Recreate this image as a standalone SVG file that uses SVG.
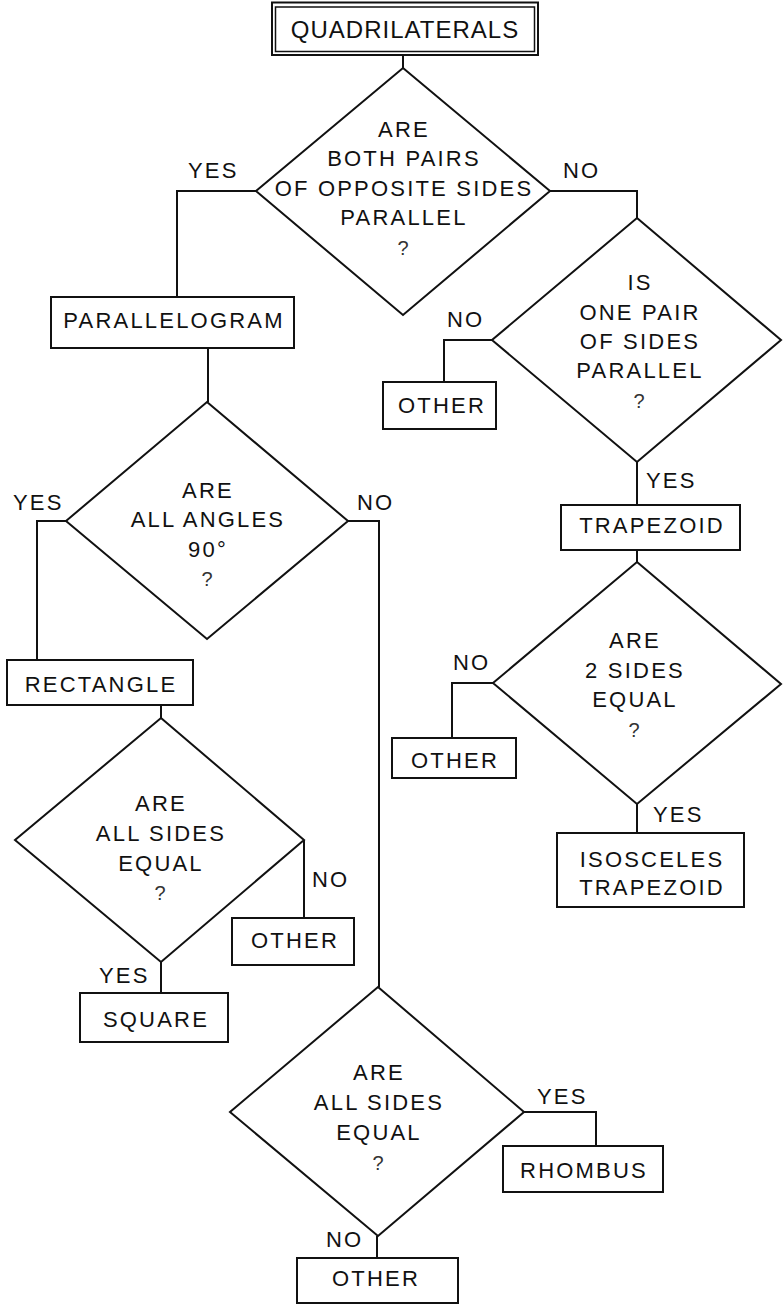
<svg xmlns="http://www.w3.org/2000/svg" width="783" height="1305" viewBox="0 0 783 1305">
<style>
  .bg { fill: #ffffff; }
  .shape { fill: #ffffff; stroke: #111111; stroke-width: 2; }
  .conn { fill: none; stroke: #111111; stroke-width: 2; }
  text { font-family: "Liberation Sans", Arial, sans-serif; font-size: 22px; fill: #111111; letter-spacing: 2.2px; }
  .c { text-anchor: middle; }
  .q { font-size: 20px; letter-spacing: 0; fill: #333333; }
  .title { font-size: 24px; letter-spacing: 1px; }
</style>
<rect class="bg" x="0" y="0" width="783" height="1305"/>

<g id="connectors">
  <path class="conn" d="M403 55 V68"/>
  <path class="conn" d="M256 191 H177 V297"/>
  <path class="conn" d="M550 191 H637 V218"/>
  <path class="conn" d="M208 348 V402"/>
  <path class="conn" d="M492 340 H444 V382"/>
  <path class="conn" d="M637 462 V505"/>
  <path class="conn" d="M637 550 V562"/>
  <path class="conn" d="M66 521 H37 V660"/>
  <path class="conn" d="M348 521 H379 V987"/>
  <path class="conn" d="M161 705 V718"/>
  <path class="conn" d="M304 840 V918"/>
  <path class="conn" d="M161 962 V993"/>
  <path class="conn" d="M493 683 H452 V738"/>
  <path class="conn" d="M637 804 V833"/>
  <path class="conn" d="M524 1112 H596 V1146"/>
  <path class="conn" d="M377 1236 V1258"/>
</g>

<g id="labels">
  <text x="188" y="178">YES</text>
  <text x="563" y="178">NO</text>
  <text x="447" y="327">NO</text>
  <text x="646" y="488">YES</text>
  <text x="13" y="510">YES</text>
  <text x="357" y="510">NO</text>
  <text x="312" y="887">NO</text>
  <text x="99" y="983">YES</text>
  <text x="453" y="670">NO</text>
  <text x="653" y="822">YES</text>
  <text x="537" y="1104">YES</text>
  <text x="326" y="1247">NO</text>
</g>

<g id="n-quadrilaterals">
  <rect class="shape" x="272" y="2.5" width="266" height="52.5" stroke-width="2.5"/>
  <rect fill="none" stroke="#111" stroke-width="1.5" x="275.5" y="7" width="259" height="44.5"/>
  <text class="c title" x="405" y="38">QUADRILATERALS</text>
</g>

<g id="n-d1">
  <polygon class="shape" points="403,68 550,191 403,315 256,191"/>
  <text class="c" x="404" y="137">ARE</text>
  <text class="c" x="404" y="166">BOTH PAIRS</text>
  <text class="c" x="404" y="196">OF OPPOSITE SIDES</text>
  <text class="c" x="404" y="225">PARALLEL</text>
  <text class="c q" x="403" y="255">?</text>
</g>

<g id="n-parallelogram">
  <rect class="shape" x="51" y="297" width="243" height="51"/>
  <text class="c" x="174" y="328">PARALLELOGRAM</text>
</g>

<g id="n-d2">
  <polygon class="shape" points="637,218 781,340 637,462 492,340"/>
  <text class="c" x="640" y="290">IS</text>
  <text class="c" x="640" y="320">ONE PAIR</text>
  <text class="c" x="640" y="349">OF SIDES</text>
  <text class="c" x="640" y="378">PARALLEL</text>
  <text class="c q" x="639" y="408">?</text>
</g>

<g id="n-other1">
  <rect class="shape" x="383" y="382" width="113" height="47"/>
  <text class="c" x="442" y="413">OTHER</text>
</g>

<g id="n-trapezoid">
  <rect class="shape" x="561" y="505" width="179" height="45"/>
  <text class="c" x="652" y="533">TRAPEZOID</text>
</g>

<g id="n-d3">
  <polygon class="shape" points="207,402 348,521 207,639 66,521"/>
  <text class="c" x="208" y="498">ARE</text>
  <text class="c" x="208" y="527">ALL ANGLES</text>
  <text class="c" x="208" y="557">90°</text>
  <text class="c q" x="207" y="586">?</text>
</g>

<g id="n-rectangle">
  <rect class="shape" x="7" y="660" width="186" height="45"/>
  <text class="c" x="101" y="692">RECTANGLE</text>
</g>

<g id="n-d6">
  <polygon class="shape" points="637,562 781,684 637,804 493,683"/>
  <text class="c" x="635" y="648">ARE</text>
  <text class="c" x="635" y="678">2 SIDES</text>
  <text class="c" x="635" y="707">EQUAL</text>
  <text class="c q" x="634" y="737">?</text>
</g>

<g id="n-other2">
  <rect class="shape" x="392" y="738" width="124" height="40"/>
  <text class="c" x="455" y="768">OTHER</text>
</g>

<g id="n-isosceles">
  <rect class="shape" x="557" y="833" width="187" height="74"/>
  <text class="c" x="652" y="867">ISOSCELES</text>
  <text class="c" x="652" y="895">TRAPEZOID</text>
</g>

<g id="n-d4">
  <polygon class="shape" points="161,718 304,840 161,962 15,840"/>
  <text class="c" x="161" y="811">ARE</text>
  <text class="c" x="161" y="841">ALL SIDES</text>
  <text class="c" x="161" y="871">EQUAL</text>
  <text class="c q" x="160" y="900">?</text>
</g>

<g id="n-other3">
  <rect class="shape" x="232" y="918" width="122" height="47"/>
  <text class="c" x="295" y="948">OTHER</text>
</g>

<g id="n-square">
  <rect class="shape" x="80" y="993" width="148" height="49"/>
  <text class="c" x="156" y="1027">SQUARE</text>
</g>

<g id="n-d5">
  <polygon class="shape" points="378,987 524,1112 378,1236 230,1112"/>
  <text class="c" x="379" y="1080">ARE</text>
  <text class="c" x="379" y="1110">ALL SIDES</text>
  <text class="c" x="379" y="1140">EQUAL</text>
  <text class="c q" x="378" y="1170">?</text>
</g>

<g id="n-rhombus">
  <rect class="shape" x="503" y="1146" width="160" height="46"/>
  <text class="c" x="584" y="1178">RHOMBUS</text>
</g>

<g id="n-other4">
  <rect class="shape" x="297" y="1258" width="161" height="45"/>
  <text class="c" x="376" y="1286">OTHER</text>
</g>
</svg>
